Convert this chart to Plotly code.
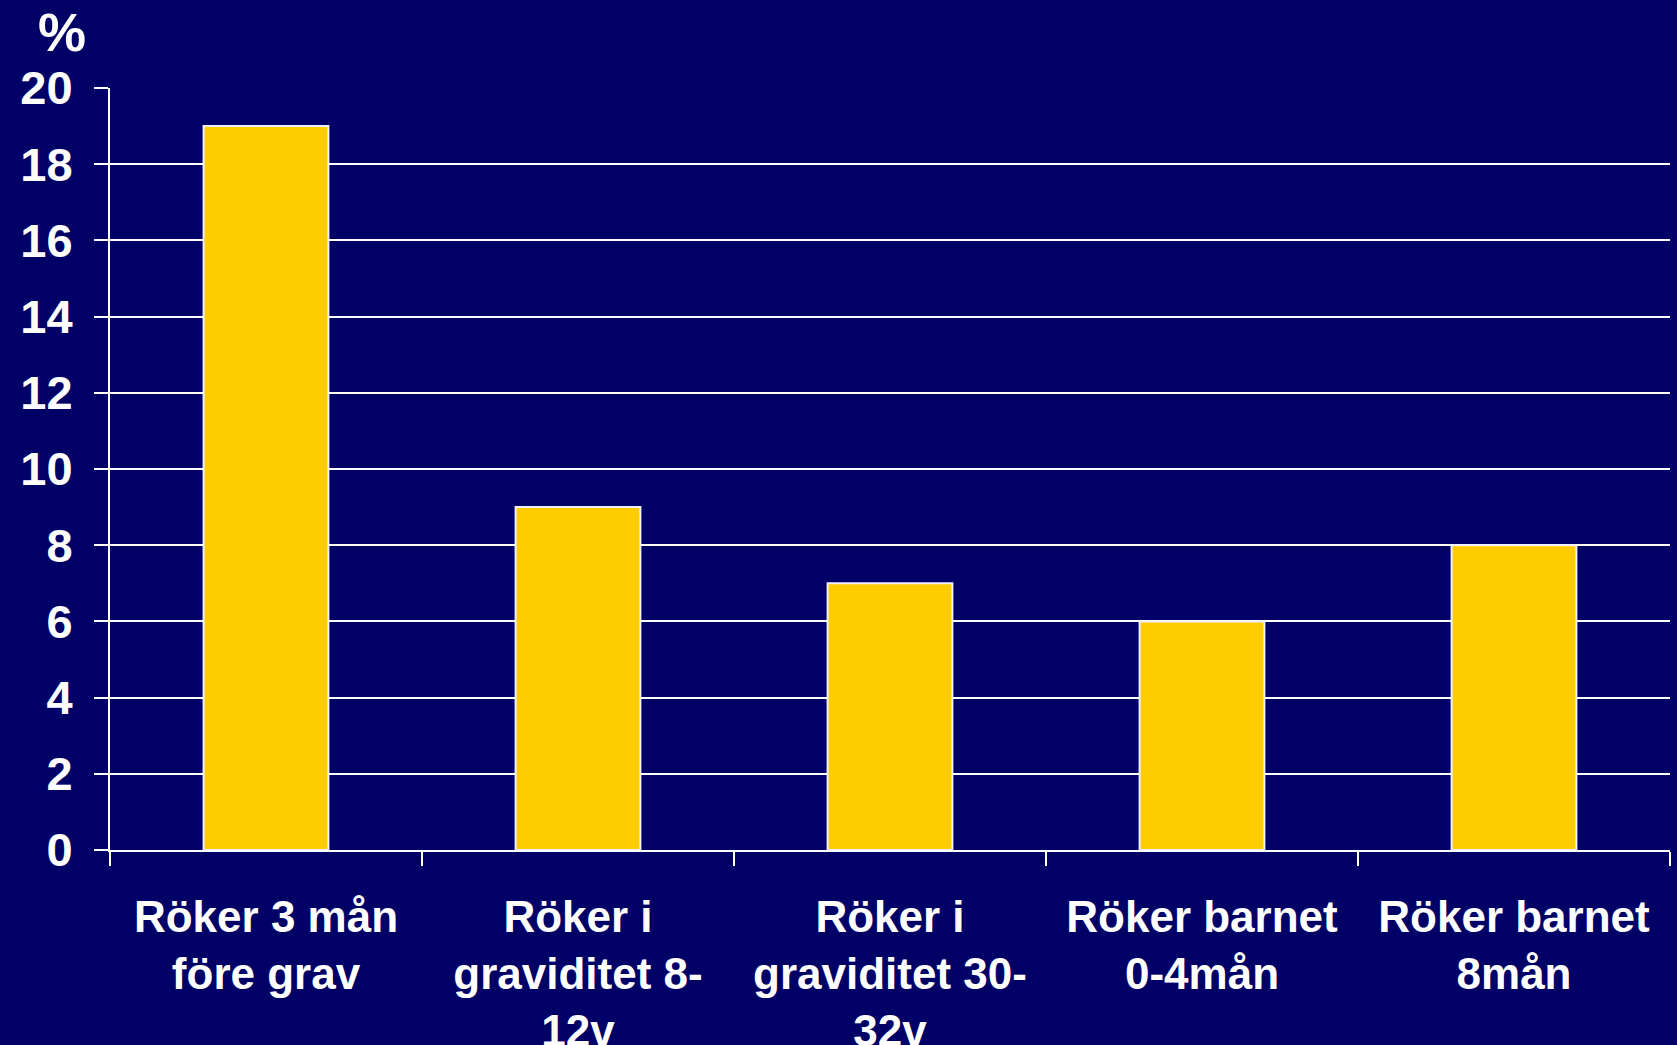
import plotly.graph_objects as go

# Andel rökare (%) vid olika tidpunkter
categories = [
    "Röker 3 mån<br>före grav",
    "Röker i<br>graviditet 8-<br>12v",
    "Röker i<br>graviditet 30-<br>32v",
    "Röker barnet<br>0-4mån",
    "Röker barnet<br>8mån",
]
values = [19, 9, 7, 6, 8]
y_ticks = [0, 2, 4, 6, 8, 10, 12, 14, 16, 18, 20]

BG = "#000066"
BAR = "#FFCC00"
FONT = "Liberation Sans, Arial, sans-serif"

fig = go.Figure(
    go.Bar(
        x=categories,
        y=values,
        marker=dict(color=BAR, line=dict(color="#F0F0FF", width=2)),
        width=0.4,
    )
)

fig.update_layout(
    width=1677,
    height=1045,
    paper_bgcolor=BG,
    plot_bgcolor=BG,
    margin=dict(l=110, r=7, t=88, b=195, autoexpand=False),
    showlegend=False,
    font=dict(family=FONT, color="white", size=44, weight="bold"),
    annotations=[
        dict(
            text="%",
            x=0, xref="paper", xanchor="right",
            xshift=-22,
            y=1, yref="paper", yanchor="bottom", yshift=24,
            showarrow=False,
            font=dict(family=FONT, size=54, color="white", weight="bold"),
        )
    ],
)

fig.update_yaxes(
    range=[0, 20],
    tickvals=y_ticks,
    tickfont=dict(size=47),
    showgrid=True,
    gridcolor="white",
    gridwidth=2,
    showline=True,
    linecolor="white",
    linewidth=2,
    ticks="outside",
    ticklen=14,
    tickwidth=2,
    tickcolor="white",
    ticklabelstandoff=12,
    zeroline=False,
    automargin=False,
)

fig.update_xaxes(
    showline=True,
    linecolor="white",
    linewidth=2,
    ticks="outside",
    tickson="boundaries",
    ticklen=14,
    tickwidth=2,
    tickcolor="white",
    ticklabelstandoff=27,
    tickangle=0,
    automargin=False,
)

fig.write_html("out.html")
